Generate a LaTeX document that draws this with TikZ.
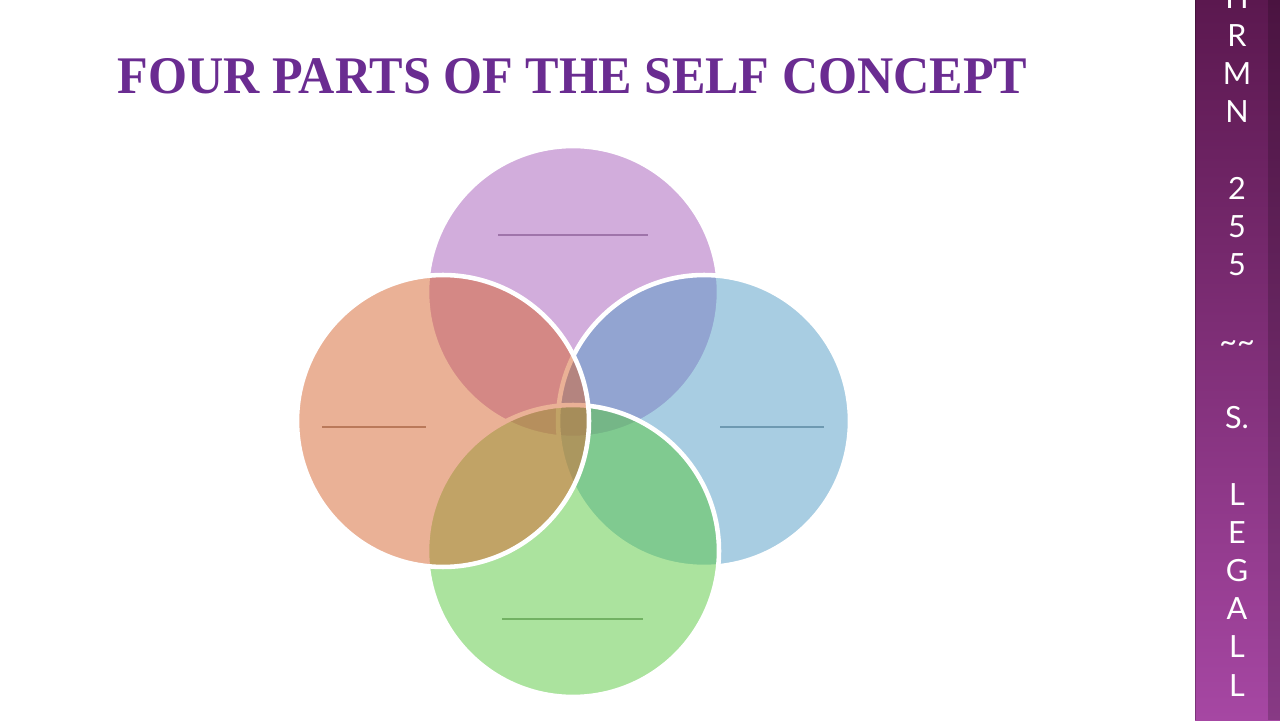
\documentclass[tikz,border=0pt]{standalone}
\usepackage{fontspec}
\setmainfont{Liberation Serif}
\newfontfamily\barfont{Lato}
\usetikzlibrary{positioning}

\definecolor{titlepurple}{HTML}{6A2C91}
\definecolor{partpurple}{HTML}{A75DBB}
\definecolor{partorange}{HTML}{D7652F}
\definecolor{partblue}{HTML}{539DC7}
\definecolor{partgreen}{HTML}{59C93F}
\definecolor{bartop}{HTML}{5B184F}
\definecolor{barbottom}{HTML}{A647A3}

\begin{document}
\begin{tikzpicture}[
        x=0.02cm, y=0.02cm,
        part/.style={circle, draw=white, line width=2.6pt, fill opacity=0.5,
            minimum size=5.84cm, inner sep=0pt},
        blank/.style={line width=0.8pt, draw opacity=0.5},
        heading/.style={text=titlepurple, inner sep=0pt, font=\bfseries},
        sidebar/.style={text=white, align=center, inner sep=0pt,
            font=\barfont\fontsize{17.4pt}{21.75pt}\selectfont}
    ]

        % ========================================================
        % HOJA Y BARRA LATERAL
        % ========================================================
        \useasboundingbox (0,0) rectangle (1280,720);
        \fill[white] (0,0) rectangle (1280,720);
        \shade[top color=bartop, bottom color=barbottom] (1195,0) rectangle (1280,720);
        \fill[black, opacity=0.18] (1268,0) rectangle (1280,720);
        \draw[black, opacity=0.25, line width=0.6pt] (1195.5,0) -- (1195.5,720);

        \node[sidebar, anchor=north] (course) at (1237,734) {H\\R\\M\\N\\\mbox{}\\2\\5\\5\\\mbox{}\\\textasciitilde\textasciitilde\\\mbox{}\\S.\\\mbox{}\\L\\E\\G\\A\\L\\L};

        % ========================================================
        % TITULO
        % ========================================================
        \node[heading, anchor=west] (title) at (117,644)
            {\resizebox{18.2cm}{0.7cm}{FOUR PARTS OF THE SELF CONCEPT}};

        % ========================================================
        % CUATRO PARTES
        % ========================================================
        \node[part, fill=partpurple] (top) at (573,428) {};
        \node[part, fill=partblue] (right) at (704,299) {};
        \node[part, fill=partgreen] (bottom) at (573,169) {};
        \node[part, fill=partorange] (left) at (443,299) {};

        % lineas vacias para escribir
        \draw[blank, draw=partpurple!65!black] ([shift={(-75,57)}]top.center) -- ++(150,0);
        \draw[blank, draw=partorange!65!black] ([shift={(-121,-6)}]left.center) -- ++(104,0);
        \draw[blank, draw=partblue!65!black] ([shift={(16,-6)}]right.center) -- ++(104,0);
        \draw[blank, draw=partgreen!65!black] ([shift={(-71,-68)}]bottom.center) -- ++(141,0);

    \end{tikzpicture}
\end{document}
